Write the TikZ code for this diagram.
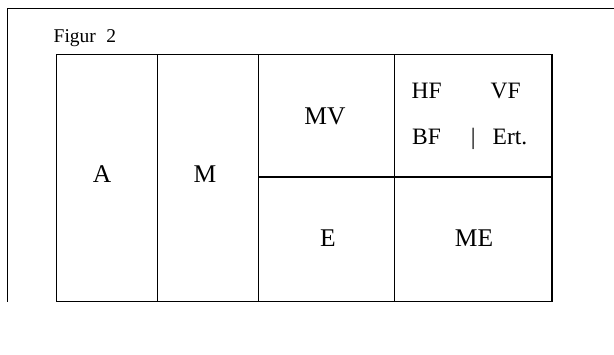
\documentclass[tikz,border=0pt]{standalone}
\usepackage{fontspec}
\setmainfont{Liberation Serif}
\begin{document}
\begin{tikzpicture}[x=1pt,y=-1pt,
  frame/.style={line width=0.8pt,black},
  rule/.style={line width=1.1pt,black},
  lbl/.style={inner sep=0pt,font=\fontsize{25.5}{30}\selectfont},
  small/.style={inner sep=0pt,anchor=base west,font=\fontsize{23.5}{28}\selectfont},
  captext/.style={inner sep=0pt,anchor=base west,font=\fontsize{19.5}{23}\selectfont}]
\useasboundingbox (0,0) rectangle (614,355);
% outer frame (top and left)
\draw[frame] (614,8.3) -- (7,8.3) -- (7,301.7);
% caption
\node[captext] (fig) at (53.5,43) {Figur\hspace{10.5pt}2};
% table
\draw[rule] (56.5,54.3) rectangle (552,301.3);
\draw[rule] (157.3,54.3) -- (157.3,301.3);
\draw[rule] (258.7,54.3) -- (258.7,301.3);
\draw[rule] (394.7,54.3) -- (394.7,301.3);
\draw[rule] (258.7,177) -- (552,177);
% labels
\node[lbl] (A) at (102,174.5) {A};
\node[lbl] (M) at (205,174.5) {M};
\node[lbl] (MV) at (325,116.5) {MV};
\node[lbl] (E) at (328,238.5) {E};
\node[lbl] (ME) at (474,238.5) {ME};
\node[small] (HF) at (411.5,99) {HF};
\node[small] (VF) at (490.5,99) {VF};
\node[small] (BF) at (412,145) {BF};
\node[small,anchor=base] (bar) at (473.3,145) {|};
\node[small] (Ert) at (492.5,145) {Ert.};
\end{tikzpicture}
\end{document}
